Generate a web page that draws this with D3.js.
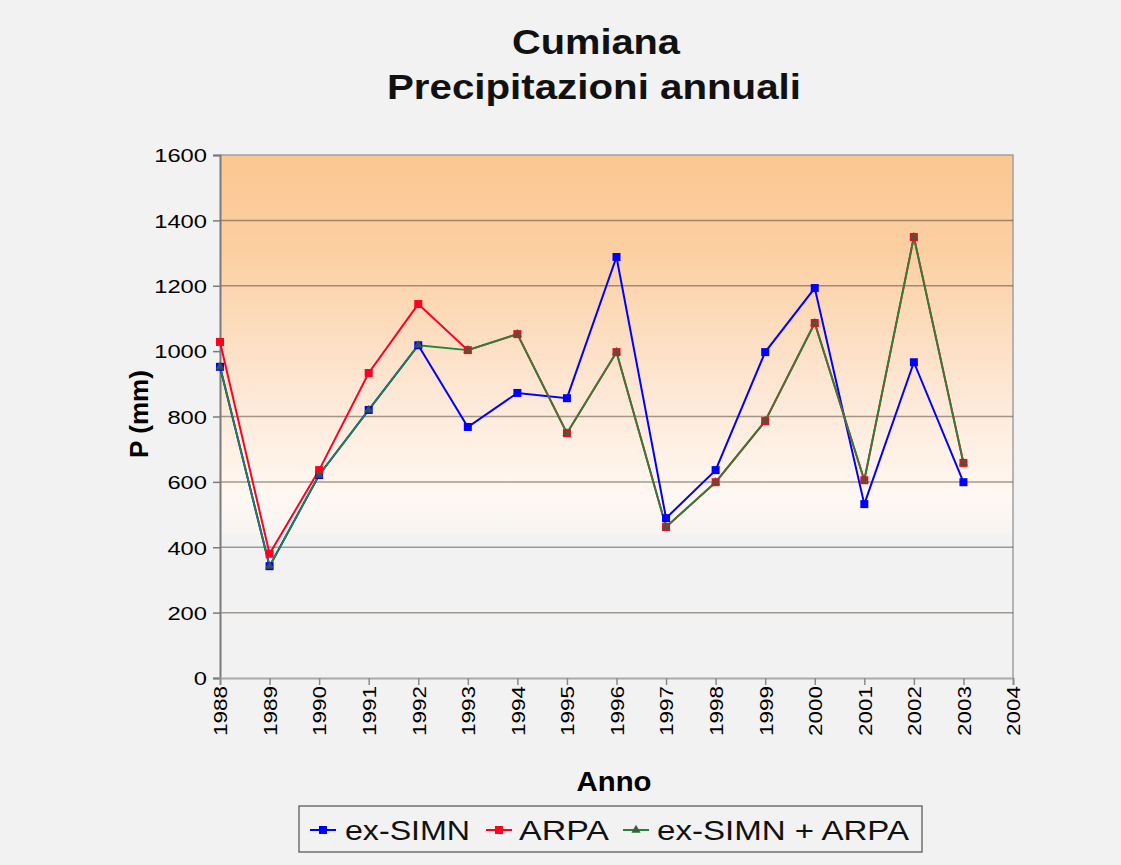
<!DOCTYPE html>
<html>
<head>
<meta charset="utf-8">
<script src="https://d3js.org/d3.v7.min.js"></script>
<style>
  body { margin: 0; background: #f2f2f2; }
  text { font-family: "Liberation Sans", Arial, sans-serif; }
</style>
</head>
<body>
<div id="chart"></div>
<script>
// data
var years = [1988, 1989, 1990, 1991, 1992, 1993, 1994, 1995, 1996, 1997, 1998, 1999, 2000, 2001, 2002, 2003];
var simn = [952, 342, 621, 820, 1018, 768, 872, 856, 1288, 489, 636, 997, 1193, 532, 966, 599];
var arpa = [1028, 380, 636, 933, 1144, 1003, 1052, 749, 997, 462, 599, 786, 1086, 605, 1349, 658];
var combined = [952, 342, 621, 820, 1018, 1003, 1052, 749, 997, 462, 599, 786, 1086, 605, 1349, 658];
var yTicks = [0, 200, 400, 600, 800, 1000, 1200, 1400, 1600];
var xTicks = [1988, 1989, 1990, 1991, 1992, 1993, 1994, 1995, 1996, 1997, 1998, 1999, 2000, 2001, 2002, 2003, 2004];
var gridValues = [200, 400, 600, 800, 1200, 1400];
var seriesNames = ["ex-SIMN", "ARPA", "ex-SIMN + ARPA"];

function formatData(xs, ys) {
  var arr = [];
  for (var i = 0; i < xs.length; i++) {
    arr.push([xs[i], ys[i]]);
  }
  return arr;
}

var series = [
  {name: seriesNames[0], values: formatData(years, simn), color: "#0000ff", width: 2, marker: "square"},
  {name: seriesNames[1], values: formatData(years, arpa), color: "#ff0022", width: 2, marker: "square"},
  {name: seriesNames[2], values: formatData(years, combined), color: "#23843a", width: 1.8, marker: "triangle"}
];

var width = 1121, height = 865;
var plot = {left: 220, right: 1013, top: 155, bottom: 678};

var x = d3.scaleLinear().domain([1988, 2004]).range([plot.left, plot.right]);
var y = d3.scaleLinear().domain([0, 1600]).range([plot.bottom, plot.top]);

var svg = d3.select("#chart").append("svg")
    .attr("width", width)
    .attr("height", height)
    .style("background", "#f2f2f2");

// orange fade behind the upper part of the plot
var grad = svg.append("defs").append("linearGradient")
    .attr("id", "fade")
    .attr("x1", 0).attr("y1", 0).attr("x2", 0).attr("y2", 1);
grad.append("stop").attr("offset", "0%").attr("stop-color", "#fbc791");
grad.append("stop").attr("offset", "25%").attr("stop-color", "#fccfa2");
grad.append("stop").attr("offset", "60%").attr("stop-color", "#fde6d2");
grad.append("stop").attr("offset", "90%").attr("stop-color", "#fff8f2");
grad.append("stop").attr("offset", "100%").attr("stop-color", "#f6f4f2");

svg.append("rect")
    .attr("x", plot.left)
    .attr("y", y(1600))
    .attr("width", plot.right - plot.left)
    .attr("height", y(440) - y(1600))
    .attr("fill", "url(#fade)");

// plot frame (top and right)
svg.append("path")
    .attr("d", "M" + plot.left + "," + plot.top + "H" + plot.right + "V" + plot.bottom)
    .attr("fill", "none")
    .attr("stroke", "#a0a0a0")
    .attr("stroke-width", 1.5);

// grid lines
svg.selectAll("line.grid")
    .data(gridValues)
    .enter().append("line")
    .attr("class", "grid")
    .attr("x1", plot.left)
    .attr("x2", plot.right)
    .attr("y1", function(d) { return y(d); })
    .attr("y2", function(d) { return y(d); })
    .attr("stroke", "#3a2a20")
    .attr("stroke-opacity", 0.45)
    .attr("stroke-width", 1.5);

// y axis
var yAxis = svg.append("g")
    .attr("transform", "translate(" + plot.left + ",0)")
    .call(d3.axisLeft(y).tickValues(yTicks).tickSize(7).tickPadding(6).tickFormat(d3.format("d")));
yAxis.select(".domain").attr("stroke", "#7a7a7a").attr("stroke-width", 2);
yAxis.selectAll(".tick line").attr("stroke", "#7a7a7a").attr("stroke-width", 1.5);
yAxis.selectAll(".tick text")
    .attr("fill", "#000")
    .style("font-size", "19px")
    .attr("dy", "0.36em")
    .attr("textLength", function(d) { return String(d).length * 13.2; })
    .attr("lengthAdjust", "spacingAndGlyphs");

// x axis
var xAxis = svg.append("g")
    .attr("transform", "translate(0," + plot.bottom + ")")
    .call(d3.axisBottom(x).tickValues(xTicks).tickSize(7).tickFormat(d3.format("d")));
xAxis.select(".domain").attr("stroke", "#a8a8a8").attr("stroke-width", 2);
xAxis.selectAll(".tick line").attr("stroke", "#8a8a8a").attr("stroke-width", 1.5);
xAxis.selectAll(".tick text")
    .attr("fill", "#000")
    .style("font-size", "19px")
    .style("text-anchor", "end")
    .attr("x", 0)
    .attr("y", 0)
    .attr("dy", "0.36em")
    .attr("transform", "translate(0,8)rotate(-90)")
    .attr("textLength", 50)
    .attr("lengthAdjust", "spacingAndGlyphs");

// lines and markers
var line = d3.line()
    .x(function(d) { return x(d[0]); })
    .y(function(d) { return y(d[1]); });

var tri = d3.symbol().type(d3.symbolTriangle).size(36);

series.forEach(function(s) {
  svg.append("path")
      .attr("d", line(s.values))
      .style("fill", "none")
      .style("stroke", s.color)
      .style("stroke-width", s.width);
});

series.forEach(function(s) {
  var g = svg.append("g");
  if (s.marker == "square") {
    g.selectAll("rect")
        .data(s.values)
        .enter().append("rect")
        .attr("x", function(d) { return x(d[0]) - 4; })
        .attr("y", function(d) { return y(d[1]) - 4; })
        .attr("width", 8)
        .attr("height", 8)
        .attr("fill", s.color);
  } else {
    g.selectAll("path")
        .data(s.values)
        .enter().append("path")
        .attr("d", tri)
        .attr("transform", function(d) { return "translate(" + x(d[0]) + "," + y(d[1]) + ")"; })
        .attr("fill", "#3b5f3a")
        .attr("fill-opacity", 0.85);
  }
});

// title
svg.append("text")
    .attr("x", 596).attr("y", 54)
    .attr("text-anchor", "middle")
    .style("font-size", "35px").style("font-weight", "bold")
    .attr("fill", "#111")
    .attr("textLength", 168).attr("lengthAdjust", "spacingAndGlyphs")
    .text("Cumiana");
svg.append("text")
    .attr("x", 594).attr("y", 99)
    .attr("text-anchor", "middle")
    .style("font-size", "35px").style("font-weight", "bold")
    .attr("fill", "#111")
    .attr("textLength", 414).attr("lengthAdjust", "spacingAndGlyphs")
    .text("Precipitazioni annuali");

// axis titles
svg.append("text")
    .attr("text-anchor", "middle")
    .attr("transform", "translate(148,414)rotate(-90)")
    .style("font-size", "26px").style("font-weight", "bold")
    .attr("textLength", 88).attr("lengthAdjust", "spacingAndGlyphs")
    .text("P (mm)");
svg.append("text")
    .attr("x", 614).attr("y", 791)
    .attr("text-anchor", "middle")
    .style("font-size", "27px").style("font-weight", "bold")
    .attr("textLength", 75).attr("lengthAdjust", "spacingAndGlyphs")
    .text("Anno");

// legend
var legendItems = [
  {lineX: 310, textX: 345, textLen: 125},
  {lineX: 486, textX: 519, textLen: 90},
  {lineX: 623, textX: 657, textLen: 252}
];

svg.append("rect")
    .attr("x", 299).attr("y", 806)
    .attr("width", 623).attr("height", 46)
    .attr("fill", "#f2f2f2")
    .attr("stroke", "#707070")
    .attr("stroke-width", 1.5);

series.forEach(function(s, i) {
  var it = legendItems[i];
  var ly = 830;
  svg.append("line")
      .attr("x1", it.lineX).attr("x2", it.lineX + 26)
      .attr("y1", ly).attr("y2", ly)
      .attr("stroke", s.color)
      .attr("stroke-width", 2);
  if (s.marker == "square") {
    svg.append("rect")
        .attr("x", it.lineX + 13 - 4).attr("y", ly - 4)
        .attr("width", 8).attr("height", 8)
        .attr("fill", s.color);
  } else {
    svg.append("path")
        .attr("d", tri)
        .attr("transform", "translate(" + (it.lineX + 13) + "," + ly + ")")
        .attr("fill", "#3b5f3a");
  }
  svg.append("text")
      .attr("x", it.textX).attr("y", 840)
      .style("font-size", "27px")
      .attr("fill", "#111")
      .attr("textLength", it.textLen).attr("lengthAdjust", "spacingAndGlyphs")
      .text(s.name);
});
</script>
</body>
</html>
